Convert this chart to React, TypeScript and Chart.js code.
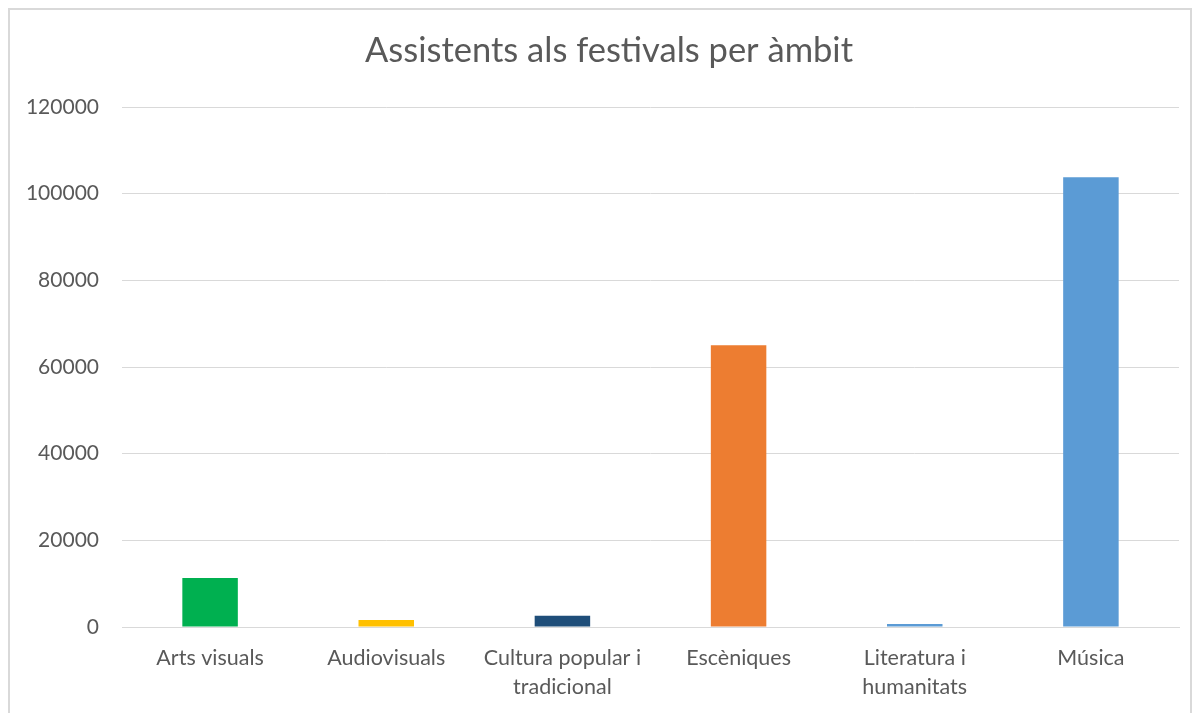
import React, { useEffect, useRef } from "react";
import { Chart, registerables } from "chart.js";

Chart.register(...registerables);

const categories: (string | string[])[] = [
  "Arts visuals",
  "Audiovisuals",
  ["Cultura popular i", "tradicional"],
  "Escèniques",
  ["Literatura i", "humanitats"],
  "Música",
];
const attendees = [11300, 1600, 2600, 65000, 700, 103800];
const barColors = ["#00b050", "#ffc000", "#1f4e79", "#ed7d31", "#5b9bd5", "#5b9bd5"];
const yTicks = [0, 20000, 40000, 60000, 80000, 100000, 120000];
const titleText = "Assistents als festivals per àmbit";

const titlePlugin = {
  id: "offsetTitle",
  afterDraw(chart: any) {
    const ctx = chart.ctx;
    ctx.save();
    ctx.fillStyle = "#595959";
    ctx.font = "normal 34.5px Lato";
    ctx.textAlign = "center";
    ctx.textBaseline = "middle";
    ctx.fillText(titleText, 599, 41);
    ctx.restore();
  },
};

export default function App() {
  const ref = useRef<HTMLCanvasElement | null>(null);
  useEffect(() => {
    if (!ref.current) return;
    const chart = new Chart(ref.current, {
      type: "bar",
      data: {
        labels: categories,
        datasets: [
          {
            data: attendees,
            backgroundColor: barColors,
            borderWidth: 0,
            barPercentage: 0.315,
            categoryPercentage: 1,
          },
        ],
      },
      plugins: [titlePlugin],
      options: {
        animation: false,
        responsive: true,
        maintainAspectRatio: false,
        layout: { padding: { left: 0, right: 11, top: 97, bottom: 0 } },
        plugins: {
          legend: { display: false },
          tooltip: { enabled: false },
          title: { display: false },
        },
        scales: {
          x: {
            grid: { display: false, drawTicks: false },
            border: { display: true, color: "#d9d9d9", width: 1 },
            ticks: {
              color: "#595959",
              font: { family: "Lato", size: 21.5, lineHeight: 1.38 },
              padding: 16,
              maxRotation: 0,
              autoSkip: false,
            },
            afterFit: (s: any) => {
              s.height = 86;
            },
          },
          y: {
            min: 0,
            max: 120000,
            afterBuildTicks: (s: any) => {
              s.ticks = yTicks.map((v) => ({ value: v }));
            },
            grid: { color: "#d9d9d9", lineWidth: 1, drawTicks: false },
            border: { display: false },
            ticks: {
              color: "#595959",
              font: { family: "Lato", size: 21 },
              padding: 23,
              callback: (v: any) => String(v),
            },
            afterFit: (s: any) => {
              s.width = 112;
            },
          },
        },
      },
    });
    return () => chart.destroy();
  }, []);
  return (
    <div
      style={{
        position: "relative",
        width: 1184,
        height: 705,
        boxSizing: "border-box",
        borderTop: "2px solid #d9d9d9",
        borderLeft: "2px solid #d9d9d9",
        borderRight: "2px solid #d9d9d9",
        background: "#fff",
      }}
    >
      <canvas ref={ref} />
    </div>
  );
}
